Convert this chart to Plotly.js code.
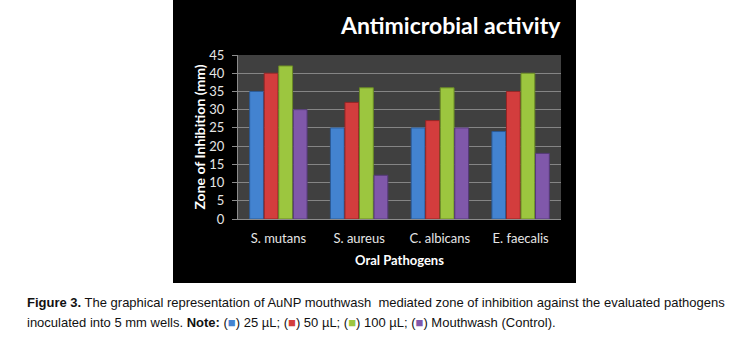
<!DOCTYPE html>
<html>
<head>
<meta charset="utf-8">
<script src="https://cdn.plot.ly/plotly-3.0.1.min.js"></script>
<style>html,body{margin:0;padding:0;background:#fff;}#chart{width:730px;height:342px;}</style>
</head>
<body>
<div id="chart"></div>
<script>
const categories = ["S. mutans", "S. aureus", "C. albicans", "E. faecalis"];
const seriesNames = ["25 µL", "50 µL", "100 µL", "Mouthwash (Control)"];
const v25 = [35, 25, 25, 24];
const v50 = [40, 32, 27, 35];
const v100 = [42, 36, 36, 40];
const vControl = [30, 12, 25, 18];
const yTicks = [0, 5, 10, 15, 20, 25, 30, 35, 40, 45];

const colors = ["#4383d0", "#d33d3d", "#9cc63f", "#8058aa"];
const edges = ["#2a5a96", "#952525", "#6a8a25", "#553a78"];
const allVals = [v25, v50, v100, vControl];

// plot area in pixels
const L = 238, R = 561, T = 55, B = 219, W = 730, H = 342;
const px = p => (p - L) / (R - L);
const py = p => (B - p) / (B - T);

const traces = allVals.map((vals, i) => ({
  type: "bar",
  x: categories,
  y: vals,
  name: seriesNames[i],
  marker: {color: colors[i], line: {color: edges[i], width: 1}},
  hoverinfo: "none"
}));

const font = "Lato, 'Open Sans', sans-serif";
const cap = "'Liberation Sans Narrow', 'Arial Narrow', 'Liberation Sans', Arial, sans-serif";

const layout = {
  width: W, height: H,
  margin: {l: L, r: W - R, t: T, b: H - B, pad: 0},
  paper_bgcolor: "#ffffff",
  plot_bgcolor: "rgba(0,0,0,0)",
  showlegend: false,
  barmode: "group",
  bargap: 0.28,
  bargroupgap: 0.05,
  xaxis: {
    type: "category",
    showgrid: false,
    showline: true, linecolor: "#8c8c8c", linewidth: 1,
    ticks: "",
    ticklabelstandoff: 7,
    tickfont: {family: font, size: 13, color: "#e6e6e6"},
    title: {text: "<b>Oral Pathogens</b>", font: {family: font, size: 13, color: "#ffffff"}, standoff: 11}
  },
  yaxis: {
    range: [0, 45],
    tickvals: yTicks,
    ticktext: yTicks.map(String),
    showgrid: true, gridcolor: "#858585", gridwidth: 1,
    zeroline: false,
    showline: true, linecolor: "#8c8c8c", linewidth: 1,
    ticks: "outside", ticklen: 5, tickcolor: "#8c8c8c",
    ticklabelstandoff: 5,
    tickfont: {family: font, size: 13, color: "#e6e6e6"},
    title: {text: "<b>Zone of Inhibition (mm)</b>", font: {family: font, size: 14, color: "#ffffff"}, standoff: 0}
  },
  shapes: [
    {type: "rect", layer: "below", xref: "paper", yref: "paper",
     x0: px(173), x1: px(576), y0: py(283), y1: py(0),
     fillcolor: "#000000", line: {width: 0}},
    {type: "rect", layer: "below", xref: "paper", yref: "paper",
     x0: 0, x1: 1, y0: 0, y1: 1,
     fillcolor: "#404040", line: {width: 0}}
  ],
  annotations: [
    {text: "<b>Antimicrobial activity</b>", xref: "paper", yref: "paper",
     x: px(450), y: py(25), xanchor: "center", yanchor: "middle", showarrow: false,
     font: {family: font, size: 23, color: "#ffffff"}},
    {text: "<b>Figure 3.</b> The graphical representation of AuNP mouthwash  mediated zone of inhibition against the evaluated pathogens",
     xref: "paper", yref: "paper", x: px(25), y: py(302), xanchor: "left", yanchor: "middle", showarrow: false,
     font: {family: cap, size: 13, color: "#111111"}},
    {text: "inoculated into 5 mm wells. <b>Note:</b> (<span style=\"color:" + colors[0] + "\">■</span>) " + seriesNames[0] +
          "; (<span style=\"color:" + colors[1] + "\">■</span>) " + seriesNames[1] +
          "; (<span style=\"color:" + colors[2] + "\">■</span>) " + seriesNames[2] +
          "; (<span style=\"color:" + colors[3] + "\">■</span>) " + seriesNames[3] + ".",
     xref: "paper", yref: "paper", x: px(25), y: py(322), xanchor: "left", yanchor: "middle", showarrow: false,
     font: {family: cap, size: 13, color: "#111111"}}
  ]
};

Plotly.newPlot("chart", traces, layout, {displayModeBar: false, staticPlot: true});
</script>
</body>
</html>
